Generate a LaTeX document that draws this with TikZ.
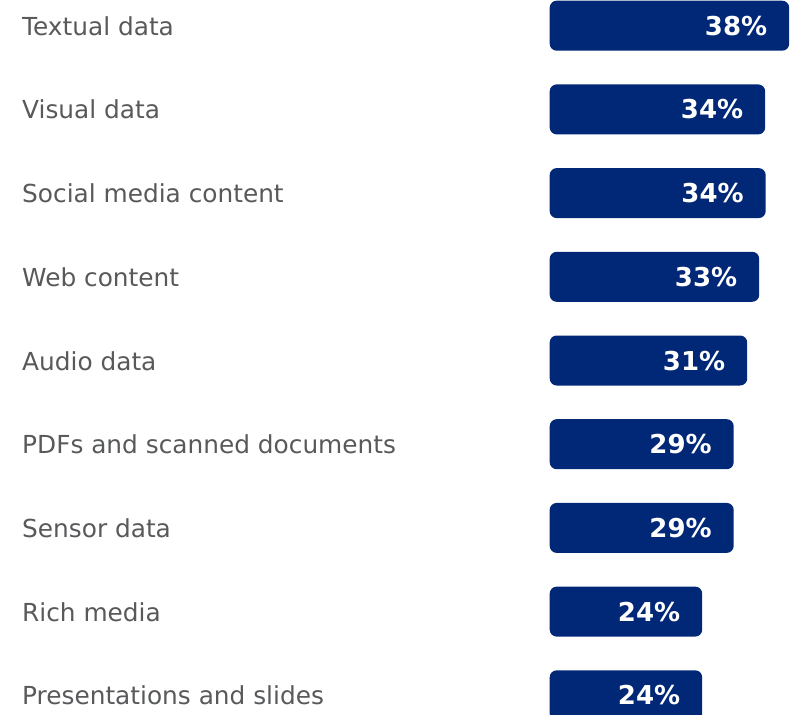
\documentclass[tikz,border=0pt]{standalone}
\usepackage{fontspec}
\setmainfont{DejaVu Sans}
\usepackage{tikz}
\usetikzlibrary{positioning}
\definecolor{barblue}{RGB}{0,40,118}
\definecolor{labgray}{RGB}{88,89,91}

\begin{document}
\begin{tikzpicture}[x=1pt,y=1pt,
	bar/.style={shape=rectangle,fill=barblue,rounded corners=7pt,minimum height=50pt,inner sep=0pt,anchor=north west},
	pct/.style={anchor=base east,inner sep=0pt,text=white,font=\fontsize{26}{30}\selectfont\bfseries,xshift=-22pt,yshift=-9.5pt},
	lab/.style={anchor=base west,inner sep=0pt,text=labgray,font=\fontsize{24.8}{30}\selectfont,yshift=-9.5pt}]
		\useasboundingbox (0,0) rectangle (790,-715);
		\coordinate (margin) at (22,0);
		\node(bar1) [bar,minimum width=239.5pt] at (549.5,-0.5) {};
		\node(bar2) [bar,minimum width=215.5pt,below=33.3pt of bar1.south west,anchor=north west] {};
		\node(bar3) [bar,minimum width=216pt,below=33.3pt of bar2.south west,anchor=north west] {};
		\node(bar4) [bar,minimum width=209.5pt,below=33.3pt of bar3.south west,anchor=north west] {};
		\node(bar5) [bar,minimum width=197.5pt,below=33.3pt of bar4.south west,anchor=north west] {};
		\node(bar6) [bar,minimum width=184pt,below=33.3pt of bar5.south west,anchor=north west] {};
		\node(bar7) [bar,minimum width=184pt,below=33.3pt of bar6.south west,anchor=north west] {};
		\node(bar8) [bar,minimum width=152.5pt,below=33.3pt of bar7.south west,anchor=north west] {};
		\node(bar9) [bar,minimum width=152.5pt,below=33.3pt of bar8.south west,anchor=north west] {};
		\node(pct1) [pct] at (bar1.east) {38\%};
		\node(pct2) [pct] at (bar2.east) {34\%};
		\node(pct3) [pct] at (bar3.east) {34\%};
		\node(pct4) [pct] at (bar4.east) {33\%};
		\node(pct5) [pct] at (bar5.east) {31\%};
		\node(pct6) [pct] at (bar6.east) {29\%};
		\node(pct7) [pct] at (bar7.east) {29\%};
		\node(pct8) [pct] at (bar8.east) {24\%};
		\node(pct9) [pct] at (bar9.east) {24\%};
		\node(lab1) [lab] at (margin |- bar1.west) {Textual data};
		\node(lab2) [lab] at (margin |- bar2.west) {Visual data};
		\node(lab3) [lab] at (margin |- bar3.west) {Social media content};
		\node(lab4) [lab] at (margin |- bar4.west) {Web content};
		\node(lab5) [lab] at (margin |- bar5.west) {Audio data};
		\node(lab6) [lab] at (margin |- bar6.west) {PDFs and scanned documents};
		\node(lab7) [lab] at (margin |- bar7.west) {Sensor data};
		\node(lab8) [lab] at (margin |- bar8.west) {Rich media};
		\node(lab9) [lab] at (margin |- bar9.west) {Presentations and slides};
	\end{tikzpicture}
\end{document}
